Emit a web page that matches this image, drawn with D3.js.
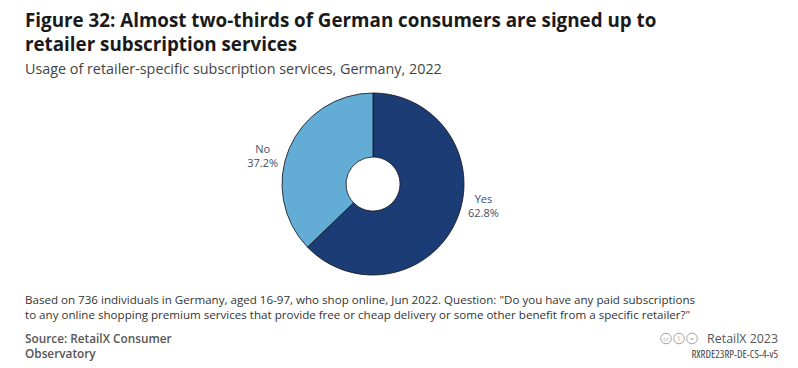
<!DOCTYPE html>
<html><head><meta charset="utf-8">
<script src="https://cdn.jsdelivr.net/npm/d3@7"></script>
<style>
body{margin:0;background:#fff;}
svg text{font-family:"Open Sans",sans-serif;}
</style></head>
<body>
<svg id="c" width="798" height="368"></svg>
<script>
const categories = ["Yes", "No"];
const values = [62.8, 37.2];
const colors = ["#1c3c75", "#62acd6"];

const svg = d3.select("#c");
const cx = 373, cy = 184, rOuter = 91, rInner = 27;

svg.append("text").attr("x", 25).attr("y", 27).attr("font-size", 18.8).attr("font-weight", 700).attr("fill", "#1a1a1a")
  .text("Figure 32: Almost two-thirds of German consumers are signed up to");
svg.append("text").attr("x", 25).attr("y", 51).attr("font-size", 18.8).attr("font-weight", 700).attr("fill", "#1a1a1a")
  .text("retailer subscription services");
svg.append("text").attr("x", 25).attr("y", 74).attr("font-size", 14.35).attr("fill", "#444")
  .text("Usage of retailer-specific subscription services, Germany, 2022");

const data = categories.map((c, i) => ({cat: c, value: values[i], color: colors[i]}));
const pie = d3.pie().sort(null).value(d => d.value);
const arc = d3.arc().innerRadius(rInner).outerRadius(rOuter);
const g = svg.append("g").attr("transform", `translate(${cx},${cy})`);
const arcs = pie(data);
g.selectAll("path").data(arcs).join("path")
  .attr("d", arc).attr("fill", d => d.data.color)
  .attr("stroke", "#111").attr("stroke-width", 0.8);

arcs.forEach(a => {
  const mid = (a.startAngle + a.endAngle) / 2;
  const x = Math.sin(mid) * 120, y = -Math.cos(mid) * 64;
  const t = g.append("text").attr("text-anchor", "middle").attr("font-size", 11).attr("fill", "#3f4f6b");
  t.append("tspan").attr("x", x).attr("y", y - 6).text(a.data.cat);
  t.append("tspan").attr("x", x).attr("y", y + 8).text(a.data.value.toFixed(1) + "%");
});

const foot = svg.append("g");
foot.append("text").attr("x", 25).attr("y", 304).attr("font-size", 11.58).attr("fill", "#333")
  .text('Based on 736 individuals in Germany, aged 16-97, who shop online, Jun 2022. Question: "Do you have any paid subscriptions');
foot.append("text").attr("x", 25).attr("y", 319).attr("font-size", 11.58).attr("fill", "#333")
  .text('to any online shopping premium services that provide free or cheap delivery or some other benefit from a specific retailer?"');
foot.append("text").attr("x", 25).attr("y", 343).attr("font-size", 11.8).attr("font-weight", 600).attr("fill", "#555")
  .text("Source: RetailX Consumer");
foot.append("text").attr("x", 25).attr("y", 358).attr("font-size", 11.8).attr("font-weight", 600).attr("fill", "#555")
  .text("Observatory");
foot.append("text").attr("x", 778).attr("y", 343).attr("text-anchor", "end").attr("font-size", 12.4).attr("fill", "#555")
  .text("RetailX 2023");
// cc icons
const icx = [666, 679, 692];
icx.forEach(x => {
  foot.append("circle").attr("cx", x).attr("cy", 338.5).attr("r", 5.3).attr("fill", "none").attr("stroke", "#999").attr("stroke-width", 0.9);
});
foot.append("text").attr("x", icx[0]).attr("y", 340.5).attr("text-anchor", "middle").attr("font-size", 5.5).attr("fill", "#999").text("cc");
foot.append("text").attr("x", icx[1]).attr("y", 341).attr("text-anchor", "middle").attr("font-size", 7).attr("fill", "#999").text("i");
foot.append("text").attr("x", icx[2]).attr("y", 341).attr("text-anchor", "middle").attr("font-size", 7).attr("fill", "#999").text("=");
foot.append("text").attr("x", 778).attr("y", 358).attr("text-anchor", "end").attr("font-size", 10.8).attr("fill", "#444").attr("font-stretch", "semi-condensed")
  .text("RXRDE23RP-DE-CS-4-v5");
</script>
</body></html>
